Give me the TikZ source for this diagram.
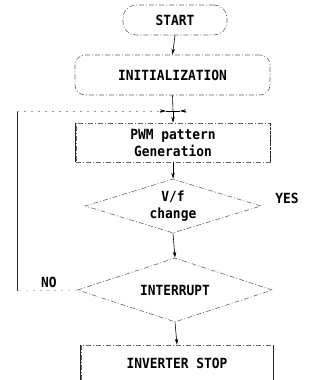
\documentclass[tikz,border=0pt]{standalone}
\usepackage{fontspec}
\newfontfamily\flowfont[FakeStretch=0.92]{DejaVu Sans Mono}
\usetikzlibrary{shapes.geometric,arrows.meta}
\begin{document}
\begin{tikzpicture}[x=1pt,y=1pt,
  scan/.style={draw=black!60, line width=0.6pt, dash pattern=on 5pt off 2pt on 1pt off 2pt},
  faint/.style={draw=black!40, line width=0.5pt, dash pattern=on 2pt off 5pt},
  solidside/.style={draw=black!85, line width=0.7pt},
  lbl/.style={font=\flowfont\bfseries\fontsize{14}{17}\selectfont, text=black},
  termbox/.style={scan, rounded corners=13pt, minimum width=104pt, minimum height=30pt, inner sep=0pt, lbl},
  initbox/.style={scan, rounded corners=10pt, minimum width=195pt, minimum height=40pt, inner sep=0pt, lbl},
  procbox/.style={scan, minimum width=194pt, minimum height=39pt, inner sep=0pt, align=center, lbl},
  decbox/.style={scan, diamond, inner sep=0pt, align=center, lbl},
  flow/.style={draw=black, line width=0.6pt, -{Stealth[length=6pt,width=3.5pt]}},
  plain/.style={draw=black, line width=0.6pt}
]
\useasboundingbox (0,0) rectangle (330,-380);
\clip (0,0) rectangle (330,-380);

\node[termbox] (start) at (175,-20) {START};
\node[initbox] (init) at (172.5,-75) {INITIALIZATION};
\coordinate (J) at (173,-111);
\node[procbox] (pwm) at (173,-142.5) {PWM pattern\\Generation};
\node[decbox, aspect=3.26, minimum width=176pt, minimum height=54pt] (vf) at (173,-206) {V/f\\change};
\node[decbox, aspect=3.05, minimum width=195pt, minimum height=64pt] (int) at (175,-290) {INTERRUPT};
\node[scan, minimum width=192pt, minimum height=36pt, inner sep=0pt, lbl] (stop) at (177,-363) {INVERTER STOP};

% darker sides (scan appearance)
\draw[solidside] (pwm.north west) -- (pwm.south west);
\draw[solidside, dash pattern=on 3pt off 1pt] (pwm.north east) -- (pwm.south east);
\draw[solidside] (stop.north west) -- (stop.south west);
\draw[solidside] (stop.north east) -- (stop.south east);

% main flow
\draw[flow] (start.south) -- (init.north);
\draw[plain] (init.south) -- (J);
\draw[flow] (J) -- (pwm.north);
\draw[flow] (pwm.south) -- (vf.north);
\draw[flow] (vf.south) -- (int.north);
\draw[flow] (int.south) -- (stop.north);

% NO loop back
\coordinate (LB) at (17,-291);
\coordinate (LT) at (17,-111);
\coordinate (JLL) at (160,-111);
\coordinate (JL) at (166,-111);
\coordinate (JR) at (180,-111);
\coordinate (JRR) at (186,-111);
\draw[faint] (int.west) -- (LB);
\draw[solidside] (LB) -- (LT);
\draw[faint] (LT) -- (JLL);
\draw[flow] (JLL) -- (JL);
\draw[plain] (JL) -- (JR);
\draw[flow] (JRR) -- (JR);

\node[lbl, anchor=center] (yes) at (287,-198) {YES};
\node[lbl, anchor=center] (no) at (49,-282) {NO};
\end{tikzpicture}
\end{document}
